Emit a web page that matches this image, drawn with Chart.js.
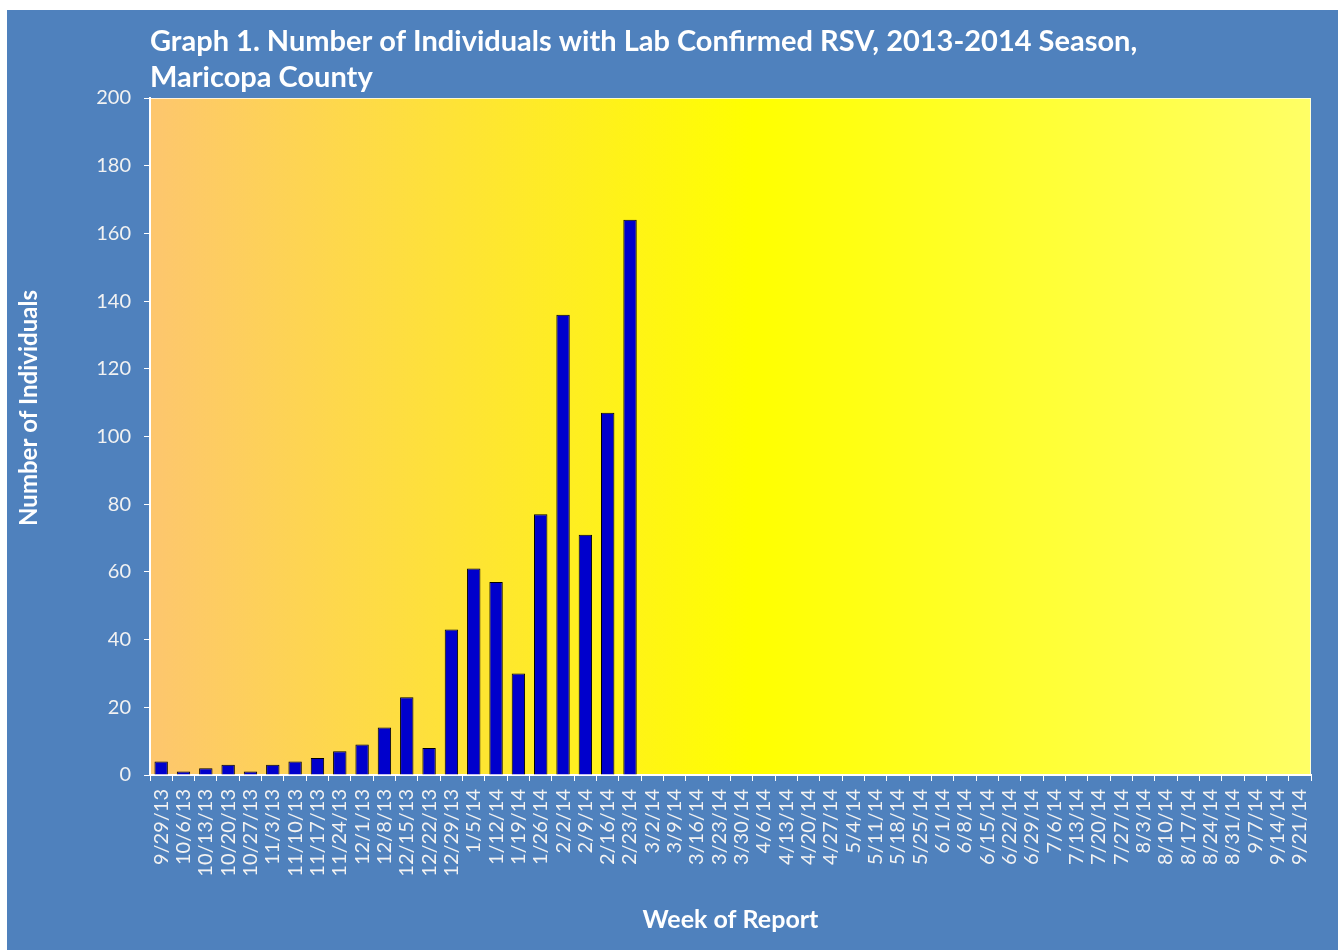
<!DOCTYPE html>
<html>
<head>
<meta charset="utf-8">
<script src="https://cdn.jsdelivr.net/npm/chart.js@4.4.0/dist/chart.umd.min.js"></script>
<style>
  body { margin: 0; background: #fff; }
  #wrap { position: absolute; left: 7px; top: 10px; width: 1331px; height: 940px; background: #4F81BD; }
</style>
</head>
<body>
<div id="wrap"><canvas id="rsvChart"></canvas></div>
<script>
const weeks = [
  '9/29/13', '10/6/13', '10/13/13', '10/20/13', '10/27/13', '11/3/13', '11/10/13', '11/17/13',
  '11/24/13', '12/1/13', '12/8/13', '12/15/13', '12/22/13', '12/29/13', '1/5/14', '1/12/14',
  '1/19/14', '1/26/14', '2/2/14', '2/9/14', '2/16/14', '2/23/14', '3/2/14', '3/9/14',
  '3/16/14', '3/23/14', '3/30/14', '4/6/14', '4/13/14', '4/20/14', '4/27/14', '5/4/14',
  '5/11/14', '5/18/14', '5/25/14', '6/1/14', '6/8/14', '6/15/14', '6/22/14', '6/29/14',
  '7/6/14', '7/13/14', '7/20/14', '7/27/14', '8/3/14', '8/10/14', '8/17/14', '8/24/14',
  '8/31/14', '9/7/14', '9/14/14', '9/21/14'
];
// only the weeks reported so far
const individuals = [4, 1, 2, 3, 1, 3, 4, 5, 7, 9, 14, 23, 8, 43, 61, 57, 30, 77, 136, 71, 107, 164];

const titleLines = ['Graph 1. Number of Individuals with Lab Confirmed RSV, 2013-2014 Season,', 'Maricopa County'];
const yTitle = 'Number of Individuals';
const xTitle = 'Week of Report';

const labelColor = '#f2f2f2';

// gradient plot background + titles
const decor = {
  id: 'decor',
  beforeDraw(chart) {
    const { ctx, chartArea: a } = chart;
    const g = ctx.createLinearGradient(a.left, 0, a.right, 0);
    g.addColorStop(0, '#FDC66E');
    g.addColorStop(0.52, '#FFFF00');
    g.addColorStop(1, '#FFFF66');
    ctx.save();
    ctx.fillStyle = g;
    ctx.fillRect(a.left, a.top, a.right - a.left, a.bottom - a.top);
    ctx.strokeStyle = 'rgba(255,255,255,0.75)';
    ctx.lineWidth = 1;
    ctx.strokeRect(a.left + 0.5, a.top + 0.5, a.right - a.left - 1, a.bottom - a.top);
    ctx.restore();
  },
  afterDraw(chart) {
    const { ctx, chartArea: a } = chart;
    ctx.save();
    ctx.fillStyle = '#fff';
    ctx.font = 'bold 29px Lato';
    ctx.textBaseline = 'alphabetic';
    ctx.fillText(titleLines[0], a.left, 41);
    ctx.fillText(titleLines[1], a.left, 77);

    ctx.font = 'bold 24px Lato';
    ctx.textAlign = 'center';
    ctx.textBaseline = 'middle';
    ctx.translate(22, 398);
    ctx.rotate(-Math.PI / 2);
    ctx.fillText(yTitle, 0, 0);
    ctx.restore();
  }
};

new Chart(document.getElementById('rsvChart'), {
  type: 'bar',
  data: {
    labels: weeks,
    datasets: [{
      data: individuals,
      backgroundColor: '#0000CC',
      borderColor: '#000',
      borderWidth: 1,
      barPercentage: 0.6,
      categoryPercentage: 1
    }]
  },
  options: {
    responsive: true,
    maintainAspectRatio: false,
    animation: false,
    layout: { padding: { top: 88, right: 27, left: 0, bottom: 0 } },
    plugins: { legend: { display: false }, tooltip: { enabled: false } },
    scales: {
      x: {
        afterFit(scale) { scale.height = 175; },
        grid: { display: true, drawOnChartArea: false, drawTicks: true, tickLength: 6, color: '#fff', offset: true },
        border: { color: '#fff', width: 2 },
        ticks: {
          color: labelColor, font: { family: 'Lato', size: 20 },
          maxRotation: 90, minRotation: 90, autoSkip: false, padding: 8
        },
        title: {
          display: true, text: xTitle, color: '#fff',
          font: { family: 'Lato', size: 25, weight: 'bold' },
          padding: { top: 0, bottom: 15 }
        }
      },
      y: {
        min: 0, max: 200,
        afterFit(scale) { scale.width = 143; },
        grid: { display: true, drawOnChartArea: false, drawTicks: true, tickLength: 6, color: '#fff' },
        border: { color: '#fff', width: 2 },
        ticks: { stepSize: 20, color: labelColor, font: { family: 'Lato', size: 20 }, padding: 13 }
      }
    }
  },
  plugins: [decor]
});
</script>
</body>
</html>
